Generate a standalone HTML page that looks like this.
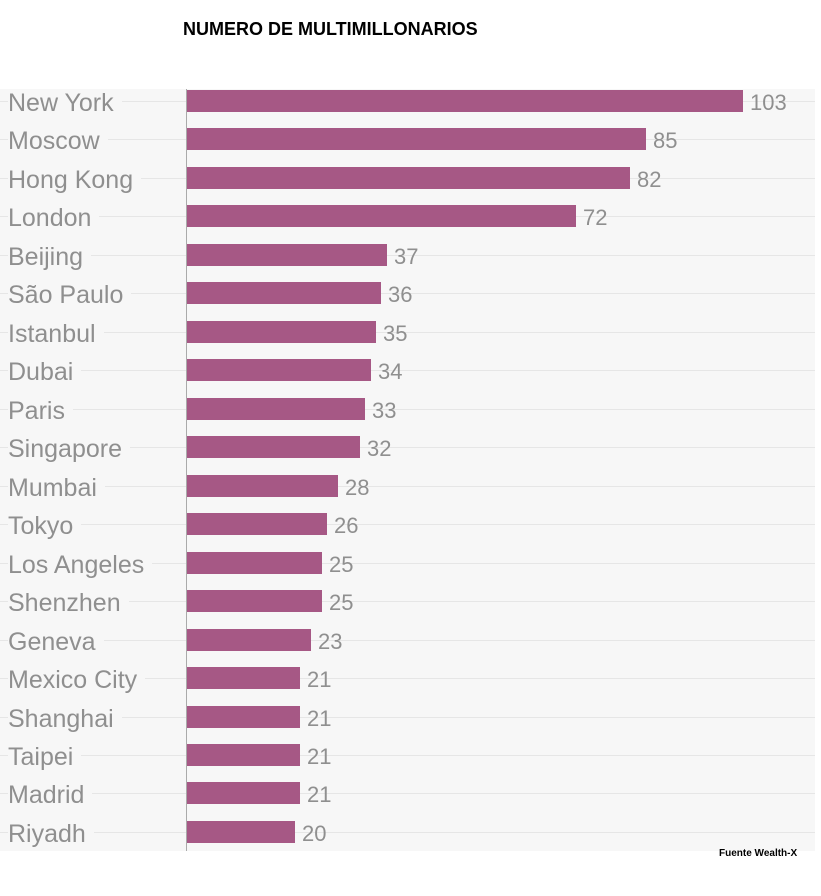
<!DOCTYPE html>
<html><head><meta charset="utf-8"><style>
body{margin:0;width:821px;height:896px;background:#fff;position:relative;overflow:hidden;font-family:"Liberation Sans",sans-serif}
#t{position:absolute;left:183px;top:19px;font-weight:bold;font-size:18px;color:#000}
#bg{position:absolute;left:0;top:89px;width:815px;height:762px;background:#f7f7f7}
#ax{position:absolute;left:186px;top:89px;width:1px;height:762px;background:#aaa}
.g{position:absolute;height:1px;background:#e6e6e6;right:6px}
.l{position:absolute;left:8px;font-size:25px;color:#8f8f8f;line-height:28px;background:#f7f7f7;padding-right:8px}
.b{position:absolute;left:187px;height:22px;background:#a65885}
.v{position:absolute;font-size:22px;color:#8f8f8f;line-height:28px}
#f{position:absolute;left:719px;top:848px;font-size:10px;font-weight:bold;color:#000}
</style></head><body>
<div id="t">NUMERO DE MULTIMILLONARIOS</div>
<div id="bg"></div>
<div id="rows"></div>
<div id="ax"></div>
<div id="f">Fuente Wealth-X</div>
<script>
var d=[["New York",103],["Moscow",85],["Hong Kong",82],["London",72],["Beijing",37],["São Paulo",36],["Istanbul",35],["Dubai",34],["Paris",33],["Singapore",32],["Mumbai",28],["Tokyo",26],["Los Angeles",25],["Shenzhen",25],["Geneva",23],["Mexico City",21],["Shanghai",21],["Taipei",21],["Madrid",21],["Riyadh",20]];
var h="";
d.forEach(function(r,i){var c=101+i*38.47;var w=r[1]*5.398;
h+='<div class="g" style="left:0;top:'+Math.round(c)+'px"></div>';
h+='<div class="l" style="top:'+Math.round(c-12)+'px">'+r[0]+'</div>';
h+='<div class="b" style="top:'+Math.round(c-11)+'px;width:'+w.toFixed(1)+'px"></div>';
h+='<div class="v" style="left:'+Math.round(187+w+7)+'px;top:'+Math.round(c-12)+'px">'+r[1]+'</div>';});
document.getElementById("rows").innerHTML=h;
</script>
</body></html>
